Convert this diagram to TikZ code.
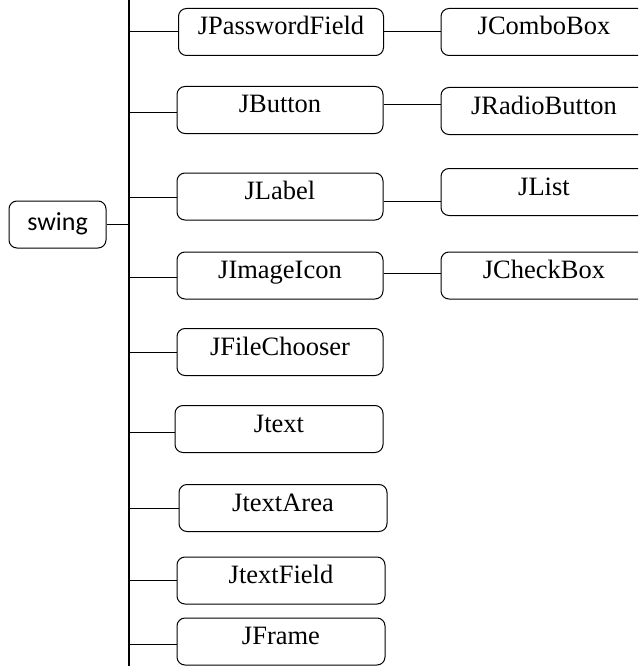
\documentclass[tikz,border=0pt]{standalone}
\usepackage{fontspec}
\setmainfont{Liberation Serif}
\newfontfamily\swingfont{Carlito}
\begin{document}
\begin{tikzpicture}[x=1pt,y=-1pt,
  box/.style={draw, line width=1pt, rounded corners=8pt, minimum width=205pt, minimum height=47pt,
    inner sep=0pt, font=\fontsize{26.5}{30}\selectfont, text height=17pt, text depth=11pt},
  wbox/.style={box, minimum width=208pt},
  conn/.style={line width=1pt}]
\useasboundingbox (0,0) rectangle (638,666);
\clip (0,0) rectangle (638,666);
\fill[white] (0,0) rectangle (638,666);
\coordinate (top) at (129,0);
\coordinate (bot) at (129,666);
\node[box, minimum width=97pt, font=\swingfont\fontsize{26}{30}\selectfont, text height=17pt, text depth=6pt] (sw) at (57.5,224.5) {swing};
\node[box] (pw) at (281,32) {JPasswordField};
\node[box, minimum width=206pt] (cb) at (544,32) {JComboBox};
\node[box, minimum width=206pt] (bt) at (280,110) {JButton};
\node[box, minimum width=206pt] (rb) at (544,111) {JRadioButton};
\node[box, minimum width=206pt] (lb) at (280,196.5) {JLabel};
\node[box, minimum width=206pt] (li) at (544,192) {JList};
\node[box, minimum width=206pt] (ii) at (280,275.5) {JImageIcon};
\node[box, minimum width=206pt] (ck) at (544,275.5) {JCheckBox};
\node[box, minimum width=206pt] (fc) at (280,352) {JFileChooser};
\node[wbox] (jt) at (279,429) {Jtext};
\node[wbox] (ta) at (283,508) {JtextArea};
\node[wbox] (tf) at (281,580.5) {JtextField};
\node[wbox] (fr) at (281,641.5) {JFrame};
% spine
\draw[line width=1.8pt] (top) -- (bot);
% root connector
\draw[conn] (sw.east) -- (sw.east -| top);
% branches
\draw[conn] (pw.west) -- (pw.west -| top);
\draw[conn] ([yshift=-3pt]bt.west) -- ([yshift=-3pt]bt.west -| top);
\draw[conn] ([yshift=-0.5pt]lb.west) -- ([yshift=-0.5pt]lb.west -| top);
\draw[conn] ([yshift=-1.5pt]ii.west) -- ([yshift=-1.5pt]ii.west -| top);
\draw[conn] (fc.west) -- (fc.west -| top);
\draw[conn] ([yshift=-3pt]jt.west) -- ([yshift=-3pt]jt.west -| top);
\draw[conn] (ta.west) -- (ta.west -| top);
\draw[conn] (tf.west) -- (tf.west -| top);
\draw[conn] ([yshift=-2.5pt]fr.west) -- ([yshift=-2.5pt]fr.west -| top);
% right connectors
\draw[conn] (pw.east) -- (pw.east -| cb.west);
\draw[conn] ([yshift=5pt]bt.east) -- ([yshift=5pt]bt.east -| rb.west);
\draw[conn] ([yshift=-4.5pt]lb.east) -- ([yshift=-4.5pt]lb.east -| li.west);
\draw[conn] ([yshift=2.5pt]ii.east) -- ([yshift=2.5pt]ii.east -| ck.west);
\end{tikzpicture}
\end{document}
